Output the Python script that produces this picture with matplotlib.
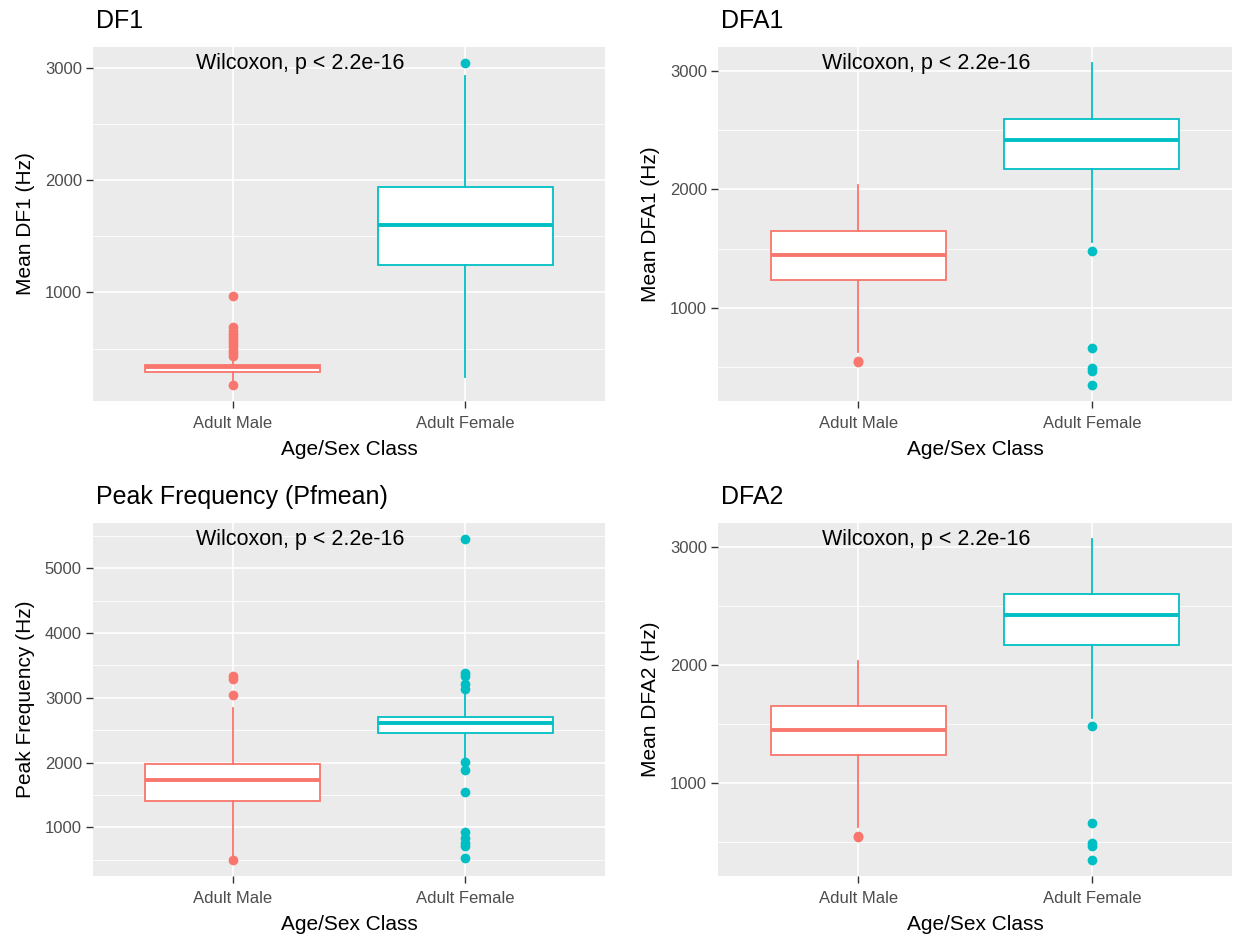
import matplotlib
matplotlib.use("Agg")
import matplotlib.pyplot as plt
from matplotlib.ticker import MultipleLocator

plt.rcParams['font.family'] = ['Liberation Sans', 'DejaVu Sans']

groups = ["Adult Male", "Adult Female"]
colors = ["#F8766D", "#00BFC4"]

# Box statistics per panel: [whislo, q1, median, q3, whishi] for (male, female)
df1_stats = [[200, 289, 333, 354, 400], [244, 1245, 1597, 1944, 2926]]
df1_fliers = [[964, 689, 660, 630, 600, 575, 550, 520, 490, 460, 430, 176], [3044]]

dfa1_stats = [[628, 1235, 1448, 1650, 2034], [1552, 2168, 2420, 2597, 3065]]
dfa1_fliers = [[552, 540], [1481, 664, 493, 467, 350]]

pf_stats = [[555, 1407, 1728, 1974, 2847], [2060, 2454, 2605, 2710, 3080]]
pf_fliers = [[3337, 3285, 3040, 498],
             [5449, 3390, 3337, 3220, 3143, 2010, 1882, 1550, 934, 830, 755, 720, 525]]

dfa2_stats = [[628, 1235, 1448, 1650, 2034], [1552, 2168, 2420, 2597, 3065]]
dfa2_fliers = [[552, 540], [1481, 664, 493, 467, 350]]

panels = [
    ("DF1", "Mean DF1 (Hz)", df1_stats, df1_fliers, 1000),
    ("DFA1", "Mean DFA1 (Hz)", dfa1_stats, dfa1_fliers, 1000),
    ("Peak Frequency (Pfmean)", "Peak Frequency (Hz)", pf_stats, pf_fliers, 1000),
    ("DFA2", "Mean DFA2 (Hz)", dfa2_stats, dfa2_fliers, 1000),
]
stat_label = "Wilcoxon, p < 2.2e-16"

W, H = 1238, 939
fig = plt.figure(figsize=(W / 100, H / 100), dpi=100)
fig.patch.set_facecolor("white")

# panel rectangles in pixels: left, top, right, bottom
rects = [(93, 47, 605, 401), (718, 47, 1232, 401),
         (93, 523, 605, 876), (718, 523, 1232, 876)]

for (title, ylab, stats, fliers, step), (l, t, r, b) in zip(panels, rects):
    ax = fig.add_axes([l / W, 1 - b / H, (r - l) / W, (b - t) / H])
    ax.set_facecolor("#EBEBEB")
    for s in ax.spines.values():
        s.set_visible(False)

    bstats = []
    for i in range(2):
        lo, q1, med, q3, hi = stats[i]
        bstats.append(dict(whislo=lo, q1=q1, med=med, q3=q3, whishi=hi,
                           fliers=[], label=groups[i]))
    for i in range(2):
        c = colors[i]
        ax.bxp([bstats[i]], positions=[i + 1], widths=0.75, patch_artist=True,
               showfliers=False, showcaps=False,
               boxprops=dict(facecolor="white", edgecolor=c, linewidth=1.3),
               whiskerprops=dict(color=c, linewidth=1.3),
               medianprops=dict(color=c, linewidth=2.8, solid_capstyle="butt"),
               zorder=3)
        ax.plot([i + 1] * len(fliers[i]), fliers[i], "o", color=c,
                markersize=7, markeredgewidth=0, zorder=4)

    allv = [v for s in stats for v in s] + [v for f in fliers for v in f]
    lo, hi = min(allv), max(allv)
    pad = 0.05 * (hi - lo)
    ax.set_ylim(lo - pad, hi + pad)
    ax.set_xlim(0.4, 2.6)
    ax.set_xticks([1, 2])
    ax.set_xticklabels(groups)
    ax.yaxis.set_major_locator(MultipleLocator(step))
    ax.yaxis.set_minor_locator(MultipleLocator(step / 2))
    ax.xaxis.set_minor_locator(MultipleLocator(10))
    ax.grid(which="major", color="white", linewidth=1.2, zorder=0)
    ax.grid(which="minor", axis="y", color="white", linewidth=0.6, zorder=0)
    ax.set_axisbelow(True)
    ax.tick_params(axis="both", which="major", length=5, width=1, color="#333333",
                   labelcolor="#4D4D4D", labelsize=12, pad=3)
    ax.tick_params(axis="x", which="major", pad=6)
    ax.tick_params(which="minor", length=0)

    ax.set_xlabel("Age/Sex Class", fontsize=15, color="black", labelpad=6)
    ax.set_ylabel(ylab, fontsize=15, color="black", labelpad=7)
    ax.set_title(title, fontsize=18, loc="left", color="black", pad=14, x=0.005)
    ax.text(1.29, hi, stat_label, ha="center", va="center", fontsize=15.5,
            color="black", zorder=5)

fig.savefig("out.png", dpi=100)
